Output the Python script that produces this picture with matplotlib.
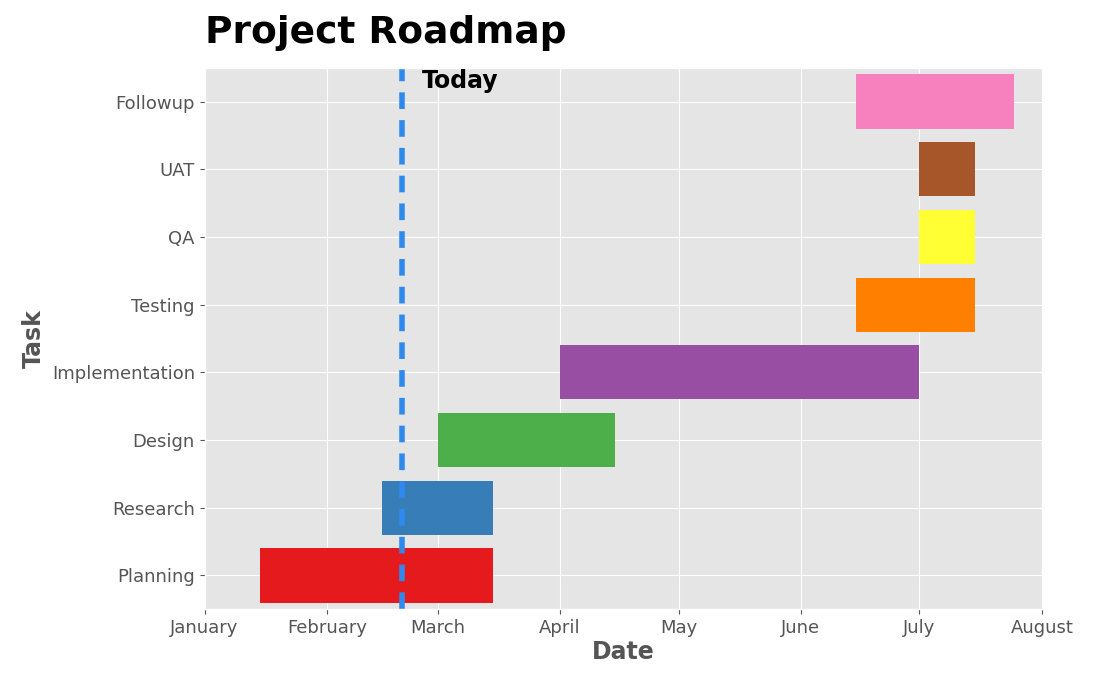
import matplotlib

matplotlib.use("Agg")
import matplotlib.pyplot as plt
import matplotlib.dates as mdates
import pandas as pd

tasks = ["Planning", "Research", "Design", "Implementation", "Testing", "QA", "UAT", "Followup"]
starts = ["2022-01-15", "2022-02-15", "2022-03-01", "2022-04-01", "2022-06-15", "2022-07-01", "2022-07-01", "2022-06-15"]
ends = ["2022-03-15", "2022-03-15", "2022-04-15", "2022-07-01", "2022-07-15", "2022-07-15", "2022-07-15", "2022-07-25"]
colors = ["#e41a1c", "#377eb8", "#4daf4a", "#984ea3", "#ff7f00", "#ffff33", "#a65628", "#f781bf"]
today = "2022-02-20"
month_ticks = pd.date_range("2022-01-01", "2022-08-01", freq="MS")

plt.style.use("ggplot")
fig, ax = plt.subplots(figsize=(11.06, 6.77), dpi=100)

s = mdates.date2num(pd.to_datetime(starts))
e = mdates.date2num(pd.to_datetime(ends))
ax.barh(tasks, e - s, left=s, color=colors, height=0.8)

t = mdates.date2num(pd.Timestamp(today))
ax.axvline(t, color="#2f8af0", linestyle="--", linewidth=4, dashes=(3, 2))
ax.text(t + 5, 7.2, "Today", fontsize=17, fontweight="bold", color="black")

ax.set_xticks(mdates.date2num(month_ticks))
ax.set_xticklabels([d.strftime("%B") for d in month_ticks], fontsize=13)
ax.set_xlim(mdates.date2num(month_ticks[0]), mdates.date2num(month_ticks[-1]))
ax.set_ylim(-0.5, 7.5)
ax.tick_params(axis="y", labelsize=13)
ax.set_xlabel("Date", fontsize=17, fontweight="bold", color="#555555", labelpad=2)
ax.set_ylabel("Task", fontsize=17, fontweight="bold", color="#555555")
ax.set_title("Project Roadmap", fontsize=27, fontweight="bold", loc="left", pad=18)

fig.subplots_adjust(left=0.185, right=0.942, top=0.9, bottom=0.1)
fig.savefig("out.png", dpi=100)
plt.close(fig)
